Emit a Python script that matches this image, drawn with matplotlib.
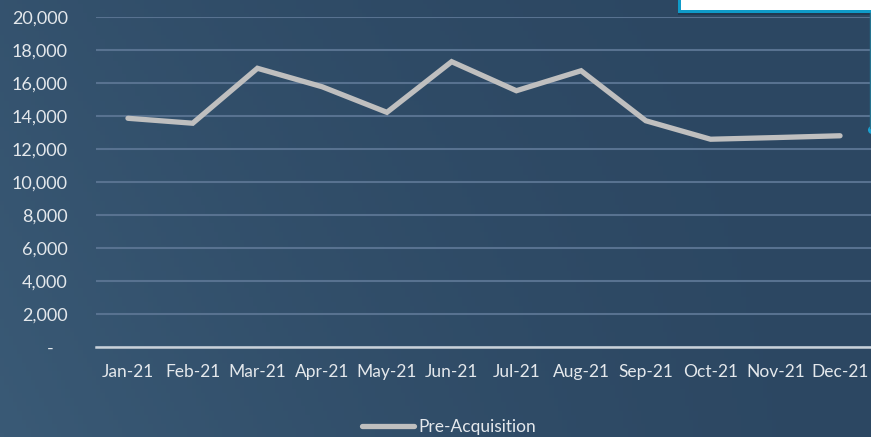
import matplotlib.pyplot as plt
import numpy as np
from matplotlib.patches import Rectangle, Circle
from matplotlib.ticker import FuncFormatter

plt.rcParams['font.family'] = ['Lato', 'DejaVu Sans']

# data
months = ['Jan-21', 'Feb-21', 'Mar-21', 'Apr-21', 'May-21', 'Jun-21',
          'Jul-21', 'Aug-21', 'Sep-21', 'Oct-21', 'Nov-21', 'Dec-21']
pre_acq = [13880, 13580, 16910, 15790, 14240, 17310,
           15550, 16760, 13730, 12610, 12710, 12820]
y_ticks = [0, 2000, 4000, 6000, 8000, 10000, 12000, 14000, 16000, 18000, 20000]

W, H = 871, 437
fig = plt.figure(figsize=(W / 100, H / 100), dpi=100)

# background gradient, a bit lighter towards the bottom-left
bg = fig.add_axes([0, 0, 1, 1])
gx, gy = np.meshgrid(np.linspace(0, 1, 200), np.linspace(0, 1, 100))
dark = np.array([44, 71, 98]) / 255
light = np.array([58, 90, 118]) / 255
t = np.clip((1 - gx) ** 2 * 0.6 + gy * (1 - gx) * 0.4, 0, 1)  # 1 = light
img = dark[None, None, :] * (1 - t[..., None]) + light[None, None, :] * t[..., None]
bg.imshow(img, aspect='auto', extent=[0, 1, 0, 1], origin='upper')
bg.set_axis_off()

ax = fig.add_axes([95.6 / W, 1 - 347.3 / H, (872.4 - 95.6) / W, (347.3 - 17.3) / H])
ax.patch.set_alpha(0)

x = np.arange(len(months))
ax.plot(x, pre_acq, color='#bfbfbf', lw=3.8, solid_capstyle='round',
        solid_joinstyle='miter', label='Pre-Acquisition', zorder=3)

ax.set_xlim(-0.5, len(months) - 0.5)
ax.set_ylim(0, 20000)
ax.set_yticks(y_ticks)
ax.yaxis.set_major_formatter(FuncFormatter(lambda v, p: '-   ' if v == 0 else f'{int(v):,}'))
ax.set_xticks(x)
ax.set_xticklabels(months)

ax.grid(axis='y', color='#587290', lw=1.5)
ax.set_axisbelow(True)
for s in ['top', 'right', 'left']:
    ax.spines[s].set_visible(False)
ax.spines['bottom'].set_color('#c9d1d9')
ax.spines['bottom'].set_linewidth(1.8)
ax.tick_params(axis='both', length=0, colors='#e4e8ec', labelsize=12.5)
ax.tick_params(axis='y', pad=20, labelsize=13)
ax.tick_params(axis='x', pad=12)

fig.legend(loc='center', bbox_to_anchor=(449 / W, 1 - 427 / H), frameon=False,
           fontsize=12.5, labelcolor='#e4e8ec', handlelength=3.0, handletextpad=0.2)

# clipped overlay box in top-right corner
ov = fig.add_axes([0, 0, 1, 1])
ov.set_xlim(0, W)
ov.set_ylim(H, 0)
ov.set_axis_off()
ov.add_patch(Rectangle((678, 12), 200, 3, color='#1a2f44', alpha=0.5, lw=0))
ov.add_patch(Rectangle((678, -5), 200, 17.5, facecolor='#0f9bc9', lw=0))
ov.add_patch(Rectangle((681, -5), 200, 15, facecolor='white', lw=0))
ov.plot([870, 870], [13, 128], color='#24728f', lw=1)
ov.add_patch(Circle((872, 130), 4, color='#1aa3d3', lw=0))

fig.savefig('out.png', dpi=100)
